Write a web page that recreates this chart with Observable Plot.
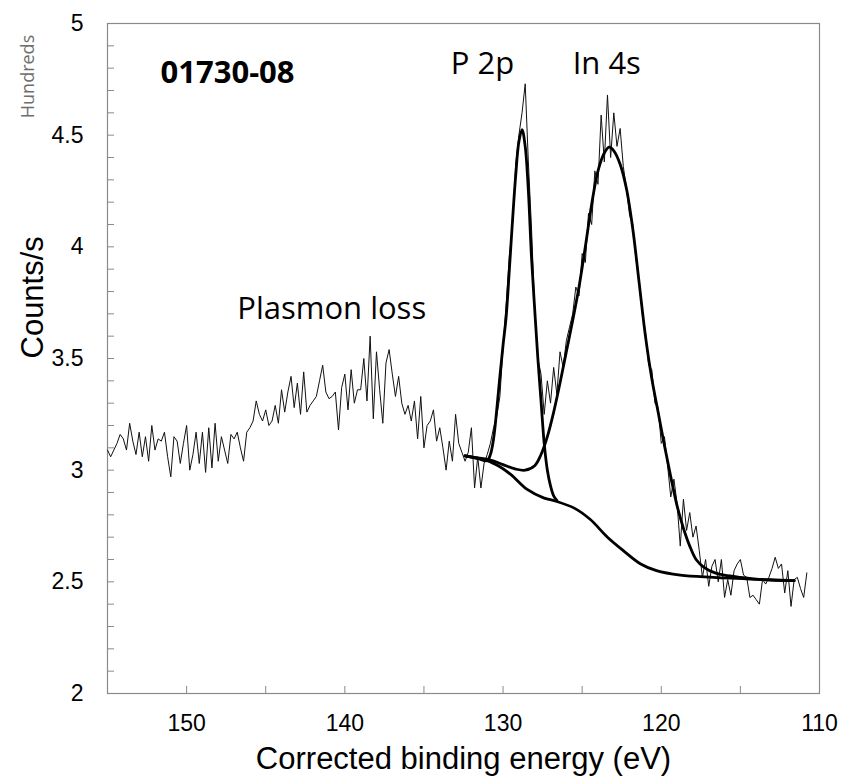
<!DOCTYPE html>
<html>
<head>
<meta charset="utf-8">
<script src="https://cdn.jsdelivr.net/npm/d3@7"></script>
<script src="https://cdn.jsdelivr.net/npm/@observablehq/plot@0.6"></script>
<style>
  html, body { margin: 0; padding: 0; background: #fff; }
  #chart svg { display: block; }
</style>
</head>
<body>
<div id="chart"></div>
<script>
// Raw spectrum (hundreds of counts/s), sampled every 0.2 eV starting at 155.0 eV
const energyStart = 155.0;
const energyStep = 0.2;
const counts = [
  3.09,3.06,3.09,3.12,3.16,3.14,3.09,3.21,3.13,3.07,
  3.17,3.06,3.15,3.04,3.20,3.09,3.14,3.13,3.17,3.06,
  2.97,3.15,3.13,3.03,3.12,3.20,3.00,3.07,3.17,3.03,
  3.17,2.99,3.19,3.01,3.21,3.04,3.15,3.09,3.03,3.16,
  3.14,3.17,3.10,3.04,3.17,3.19,3.22,3.31,3.25,3.22,
  3.27,3.20,3.22,3.29,3.21,3.36,3.26,3.35,3.42,3.28,
  3.39,3.25,3.44,3.26,3.29,3.31,3.33,3.40,3.47,3.35,
  3.32,3.33,3.35,3.18,3.37,3.43,3.27,3.45,3.30,3.36,
  3.36,3.50,3.31,3.60,3.23,3.53,3.36,3.21,3.48,3.54,
  3.43,3.33,3.42,3.30,3.25,3.29,3.22,3.31,3.14,3.33,
  3.10,3.20,3.22,3.27,3.13,3.19,3.10,3.00,3.13,3.04,
  3.25,3.12,3.08,3.04,3.08,3.19,2.92,3.06,2.92,3.03,
  3.07,3.12,3.19,3.24,3.33,3.55,3.75,3.96,4.10,4.37,
  4.50,4.60,4.73,4.38,4.08,3.72,3.50,3.43,3.25,3.40,
  3.30,3.46,3.34,3.53,3.46,3.58,3.64,3.70,3.82,3.78,
  3.97,3.93,4.15,4.10,4.34,4.28,4.59,4.38,4.68,4.40,
  4.60,4.45,4.53,4.36,4.26,4.14,4.10,3.95,3.84,3.70,
  3.62,3.47,3.45,3.30,3.28,3.12,3.15,3.02,2.88,2.96,
  2.85,2.66,2.87,2.73,2.81,2.70,2.75,2.64,2.52,2.60,
  2.48,2.57,2.60,2.50,2.60,2.43,2.51,2.44,2.55,2.58,
  2.60,2.53,2.52,2.43,2.44,2.42,2.40,2.51,2.49,2.52,
  2.56,2.61,2.56,2.58,2.45,2.55,2.39,2.51,2.52,2.47,
  2.43,2.54
];

// Fitted background (Shirley-type)
const bgEnergy = [132.4,131.0,130.2,129.5,128.5,127.4,126.7,125.5,124.5,123.4,122.4,121.3,120.3,118.8,116.7,113.5,111.6];
const bgCounts = [3.064,3.043,3.015,2.98,2.915,2.875,2.862,2.83,2.78,2.70,2.64,2.58,2.55,2.53,2.52,2.51,2.505];

// P 2p component + background
const p2pEnergy = [132.4,131.6,131.0,130.8,130.6,130.4,130.2,130.0,129.8,129.6,129.4,129.2,129.0,128.8,128.6,128.4,128.2,128.0,127.8,127.6,127.4,127.2,127.0,126.8,126.6];
const p2pCounts = [3.064,3.052,3.043,3.07,3.14,3.27,3.42,3.56,3.69,3.90,4.12,4.32,4.47,4.525,4.45,4.25,3.95,3.72,3.50,3.31,3.12,3.00,2.93,2.885,2.865];

// In 4s component + background
const in4sEnergy = [132.4,131.6,130.8,130.0,129.2,128.6,128.0,127.6,127.2,126.8,126.4,126.0,125.6,125.2,124.8,124.4,124.0,123.6,123.3,123.0,122.6,122.2,121.8,121.4,121.0,120.6,120.2,119.8,119.4,119.0,118.6,118.2,117.8,117.3,116.6,116.0,115.0,114.0,113.0,111.6];
const in4sCounts = [3.064,3.055,3.045,3.025,3.005,3.0,3.02,3.07,3.15,3.26,3.39,3.53,3.67,3.82,4.0,4.19,4.34,4.42,4.446,4.43,4.37,4.26,4.08,3.84,3.60,3.41,3.26,3.11,2.97,2.84,2.74,2.66,2.60,2.565,2.54,2.53,2.52,2.512,2.508,2.505];

// Axis ticks
const xMinorTicks = [155,150,145,140,135,130,125,120,115,110];
const xTickLabels = [150,140,130,120,110];
const yMinorTicks = d3.range(20, 51).map(d => d / 10);
const yTickLabels = [2,2.5,3,3.5,4,4.5,5];

// Annotations
const annotations = [
  {e: 151.65, v: 4.732, t: "01730-08", bold: true},
  {e: 133.3, v: 4.776, t: "P 2p", bold: false},
  {e: 125.6, v: 4.776, t: "In 4s", bold: false},
  {e: 146.8, v: 3.677, t: "Plasmon loss", bold: false}
];

const spectrum = counts.map((c, i) => ({e: energyStart - energyStep * i, c}));
const bg = bgEnergy.map((e, i) => ({e, c: bgCounts[i]}));
const p2p = p2pEnergy.map((e, i) => ({e, c: p2pCounts[i]}));
const in4s = in4sEnergy.map((e, i) => ({e, c: in4sCounts[i]}));

const axisGray = "#8a8a8a";
const sansA = "'Liberation Sans', Arial, sans-serif";
const sansC = "'Open Sans', 'Noto Sans', sans-serif";

const chart = Plot.plot({
  width: 843,
  height: 778,
  marginLeft: 107,
  marginRight: 24,
  marginTop: 23,
  marginBottom: 85,
  style: {fontFamily: sansA, fontSize: "23px", color: "#000", background: "#fff"},
  x: {domain: [155, 110]},
  y: {domain: [2, 5]},
  marks: [
    Plot.frame({stroke: axisGray, strokeWidth: 1.2}),
    Plot.axisX(xMinorTicks, {tickSize: -7, stroke: axisGray, tickFormat: () => "", label: null}),
    Plot.axisX(xTickLabels, {tickSize: 0, tickPadding: 21, label: null, fontSize: 23, fill: "#000", tickFormat: d => String(d)}),
    Plot.axisY(yMinorTicks, {tickSize: -7, stroke: axisGray, tickFormat: () => "", label: null}),
    Plot.axisY(yTickLabels, {tickSize: 0, tickPadding: 24, label: null, fontSize: 23, fill: "#000", tickFormat: d => String(d)}),
    Plot.line(spectrum, {x: "e", y: "c", stroke: "#111", strokeWidth: 1}),
    Plot.line(bg, {x: "e", y: "c", stroke: "#000", strokeWidth: 2.8, curve: "catmull-rom"}),
    Plot.line(p2p, {x: "e", y: "c", stroke: "#000", strokeWidth: 2.8, curve: "catmull-rom"}),
    Plot.line(in4s, {x: "e", y: "c", stroke: "#000", strokeWidth: 2.8, curve: "catmull-rom"}),
    Plot.text(annotations.filter(d => d.bold), {x: "e", y: "v", text: "t", textAnchor: "start", lineAnchor: "bottom", fontSize: 31, fontWeight: "bold", fontFamily: sansC, fill: "#000"}),
    Plot.text(annotations.filter(d => !d.bold), {x: "e", y: "v", text: "t", textAnchor: "start", lineAnchor: "bottom", fontSize: 31, fontFamily: sansC, fill: "#000"}),
    Plot.text(["Corrected binding energy (eV)"], {frameAnchor: "bottom", dy: 75, lineAnchor: "bottom", fontSize: 31, fontFamily: sansA, fill: "#000"}),
    Plot.text(["Counts/s"], {frameAnchor: "left", dx: -65, rotate: -90, lineAnchor: "bottom", fontSize: 31, fontFamily: sansA, fill: "#000"}),
    Plot.text(["Hundreds"], {frameAnchor: "top-left", dx: -74, dy: 53, rotate: -90, lineAnchor: "bottom", textAnchor: "middle", fontSize: 18, fontFamily: sansC, fill: "#6e6e6e"})
  ]
});

document.getElementById("chart").appendChild(chart);
</script>
</body>
</html>
